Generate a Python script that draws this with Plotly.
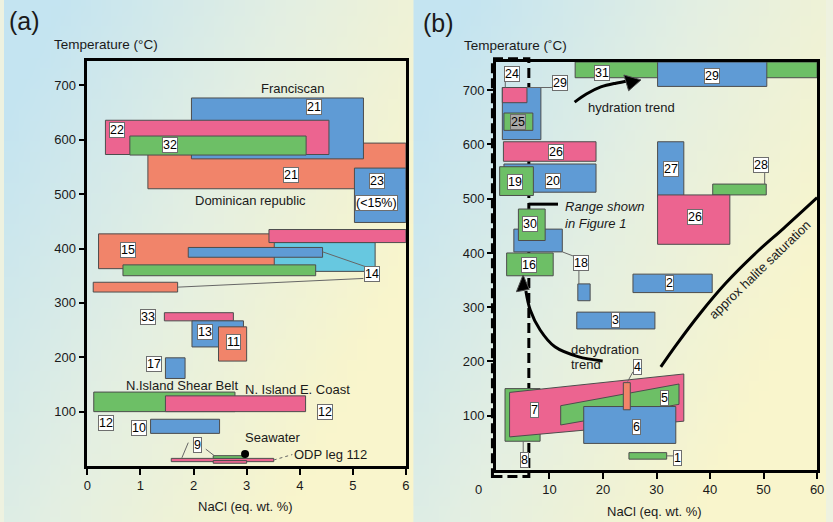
import base64
import struct
import zlib

import plotly.graph_objects as go

# ---------------------------------------------------------------- colours
BLUE = "#5f9bd5"
PINK = "#ec6490"
GREEN = "#6dbf66"
ORANGE = "#f1846a"
CYAN = "#67c8e0"
EDGE = "#4d4d4d"

# ---------------------------------------------------------------- panel (a) data
# fluid-inclusion fields: (colour, NaCl min, NaCl max, T min, T max), in drawing order
A_BOXES = [
    (ORANGE, 1.14, 6.00, 510, 594),   # 21 Dominican republic
    (BLUE, 1.96, 5.20, 565, 677),     # 21 Franciscan
    (PINK, 0.34, 4.55, 573, 636),     # 22
    (GREEN, 0.80, 4.12, 572, 607),    # 32
    (BLUE, 5.03, 6.00, 448, 548),     # 23
    (CYAN, 3.40, 5.42, 358, 411),     # 14
    (ORANGE, 0.21, 3.52, 363, 427),   # 15
    (PINK, 3.42, 6.00, 411, 435),     # 14
    (BLUE, 1.90, 4.43, 384, 402),     # 14
    (GREEN, 0.67, 4.30, 350, 370),    # 14
    (ORANGE, 0.11, 1.70, 320, 338),   # 14
    (PINK, 1.45, 2.75, 267, 282),     # 33
    (BLUE, 1.97, 2.94, 219, 267),     # 13
    (ORANGE, 2.47, 3.00, 193, 256),   # 11
    (BLUE, 1.47, 1.84, 161, 199),     # 17
    (GREEN, 0.12, 2.78, 100, 136),    # 12 N.Island Shear Belt
    (PINK, 1.47, 4.11, 100, 129),     # 12 N. Island E. Coast
    (BLUE, 1.19, 2.49, 60, 86),       # 10
    (PINK, 1.58, 3.51, 8, 14),        # 9
    (GREEN, 2.37, 2.98, 14, 19),      # 9
    (PINK, 2.37, 3.00, 5, 10),        # 9
]

# boxed reference numbers: (text, NaCl, T)
A_TAGS = [
    ("21", 4.27, 661), ("22", 0.55, 618), ("32", 1.56, 590), ("21", 3.83, 536),
    ("23", 5.45, 525), ("(<15%)", 5.45, 484), ("15", 0.77, 398), ("14", 5.37, 353),
    ("33", 1.14, 275), ("13", 2.21, 247), ("11", 2.75, 228), ("17", 1.25, 188),
    ("12", 0.35, 80), ("12", 4.48, 99), ("10", 0.98, 69), ("9", 2.07, 39),
]

# free text: (text, NaCl, T, anchor)
A_TEXT = [
    ("Franciscan", 3.88, 694, "center"),
    ("Dominican republic", 3.08, 489, "center"),
    ("N.Island Shear Belt", 1.78, 149, "center"),
    ("N. Island E. Coast", 3.96, 141, "center"),
    ("Seawater", 3.50, 53, "center"),
    ("ODP leg 112", 3.86, 21, "left"),
]

# leader lines: list of (NaCl list, T list)
A_LEADERS = [
    ([4.43, 5.23], [394, 367]),
    ([1.70, 5.20], [329, 345]),
    ([1.90, 1.78], [43, 15]),
    ([2.23, 2.39], [31, 19]),
]
A_ODP_LINE = ([3.51, 3.86], [11, 21])
SEAWATER = (2.97, 22)

A_XTICKS = [0, 1, 2, 3, 4, 5, 6]
A_YTICKS = [100, 200, 300, 400, 500, 600, 700]

# ---------------------------------------------------------------- panel (b) data
B_BOXES = [
    (GREEN, 14.8, 60.0, 723, 752),    # 31
    (BLUE, 30.2, 50.6, 707, 752),     # 29
    (BLUE, 1.2, 8.4, 609, 705),       # 25
    (PINK, 1.2, 5.8, 677, 705),       # 24
    (GREEN, 1.5, 6.9, 626, 658),      # 25
    (PINK, 1.4, 18.7, 569, 605),      # 26
    (BLUE, 1.5, 18.7, 512, 564),      # 20
    (GREEN, 0.7, 7.0, 506, 559),      # 19
    (BLUE, 3.35, 12.4, 402, 444),     # 18
    (GREEN, 4.2, 9.2, 423, 481),      # 30
    (GREEN, 2.0, 10.7, 358, 400),     # 16
    (BLUE, 15.3, 17.6, 312, 343),     # 18
    (BLUE, 25.6, 40.4, 327, 361),     # 2
    (BLUE, 15.1, 29.7, 260, 291),     # 3
    (BLUE, 30.2, 35.1, 503, 605),     # 27
    (GREEN, 40.5, 50.5, 507, 527),    # 28
    (PINK, 30.2, 43.7, 416, 507),     # 26
    (GREEN, 1.7, 8.25, 53, 150),      # 8
]
# sloping fields: (colour, NaCl corners, T corners)
B_POLYS = [
    (PINK, [2.55, 2.55, 35.1, 35.1], [61, 143, 177, 90]),        # 7
    (GREEN, [12.1, 12.1, 34.2, 34.2], [83, 118.5, 158.5, 121]),  # 5
]
B_BOXES_TOP = [
    (BLUE, 16.4, 33.6, 49, 117),      # 6
    (ORANGE, 23.8, 25.1, 111, 161),   # 4
    (GREEN, 24.85, 31.9, 20, 32),     # 1
]

B_TAGS = [
    ("24", 3.0, 729), ("29", 11.96, 713), ("31", 19.8, 731), ("29", 40.4, 726),
    ("26", 11.3, 587), ("19", 3.5, 530), ("20", 10.7, 532),
    ("30", 6.4, 454), ("16", 6.2, 378), ("18", 15.85, 381), ("2", 32.4, 345),
    ("3", 22.4, 276), ("27", 32.7, 555), ("28", 49.5, 562), ("26", 37.1, 467),
    ("4", 26.4, 190), ("5", 31.5, 133), ("6", 26.3, 80), ("7", 7.2, 110),
    ("8", 5.25, 19), ("1", 34.0, 23),
]
B_TAG_GREY = [("25", 4.1, 642)]

B_LEADERS = [
    ([5.8, 10.5], [705, 705]),
    ([1.75, 1.75], [719, 705]),
    ([12.4, 15.1], [402, 392]),
    ([15.5, 15.5], [372, 343]),
    ([50.2, 50.2], [553, 527]),
    ([5.1, 5.1], [53, 28]),
    ([31.9, 33.3], [26, 26]),
    ([25.6, 24.6], [181, 163]),
]
RANGE_LEADER = ([6.1, 11.6], [490, 490])

HYDRATION_X = [14.7, 16.9, 19.6, 22.4, 24.8]
HYDRATION_T = [678, 693, 706, 713, 717]
HYDRATION_HEAD_X = [23.9, 27.1, 24.8]
HYDRATION_HEAD_T = [728, 719, 699]

DEHYDRATION_X = [19.94, 15.34, 11.02, 8.26, 6.41, 5.6]
DEHYDRATION_T = [201, 209, 227, 258, 295, 330]
DEHYDRATION_HEAD_X = [3.83, 5.07, 6.23]
DEHYDRATION_HEAD_T = [328.6, 359.4, 333.0]

HALITE_X = [30.8, 33.8, 38.1, 43.0, 49.1, 53.8, 60.0]
HALITE_T = [190, 232, 288, 345, 405, 446, 502]

FIG1_RANGE_X = (-0.65, 6.15)
FIG1_RANGE_T = (-12, 758)

B_XTICKS = [10, 20, 30, 40, 50, 60]
B_YTICKS = [100, 200, 300, 400, 500, 600, 700]

# ---------------------------------------------------------------- layout constants
W, H = 833, 522
A_X_PX, A_Y_PX, A_XR, A_YR = (84.5, 407.3), (61, 466), (0, 6), (0, 745)
B_X_PX, B_Y_PX, B_XR, B_YR = (498.5, 824.0), (62, 470), (0, 60), (0, 752)
FONT = "Liberation Sans, Arial, Helvetica, sans-serif"
TEXT_SIZE = 13


def dom_x(px):
    return [px[0] / W, px[1] / W]


def dom_y(py):
    return [1 - py[1] / H, 1 - py[0] / H]


def to_paper(x, y, xpx, ypx, xr, yr):
    px = xpx[0] + (x - xr[0]) / (xr[1] - xr[0]) * (xpx[1] - xpx[0])
    py = ypx[1] - (y - yr[0]) / (yr[1] - yr[0]) * (ypx[1] - ypx[0])
    return px / W, 1 - py / H


def gradient_png(w, h):
    stops = [(0.0, (196, 228, 241)), (0.5, (228, 239, 226)), (1.0, (249, 245, 204))]

    def col(t):
        t = max(0.0, min(1.0, t))
        for (t0, c0), (t1, c1) in zip(stops, stops[1:]):
            if t <= t1:
                f = (t - t0) / (t1 - t0)
                return tuple(int(round(a + (b - a) * f)) for a, b in zip(c0, c1))
        return stops[-1][1]

    raw = bytearray()
    for j in range(h):
        raw.append(0)
        v = j / (h - 1)
        for i in range(w):
            u = i / (w - 1)
            raw += bytes(col(0.85 * u + 0.5 * v - 0.1))

    def chunk(tag, data):
        body = tag + data
        return struct.pack(">I", len(data)) + body + struct.pack(">I", zlib.crc32(body) & 0xFFFFFFFF)

    png = (b"\x89PNG\r\n\x1a\n"
           + chunk(b"IHDR", struct.pack(">IIBBBBB", w, h, 8, 2, 0, 0, 0))
           + chunk(b"IDAT", zlib.compress(bytes(raw), 9))
           + chunk(b"IEND", b""))
    return "data:image/png;base64," + base64.b64encode(png).decode()


fig = go.Figure()


def add_box(color, x0, x1, y0, y1, xa, ya):
    fig.add_trace(go.Scatter(
        x=[x0, x1, x1, x0, x0], y=[y0, y0, y1, y1, y0], mode="lines",
        fill="toself", fillcolor=color, line=dict(color=EDGE, width=1),
        hoverinfo="skip", showlegend=False, xaxis=xa, yaxis=ya))


def add_poly(color, xs, ys, xa, ya):
    fig.add_trace(go.Scatter(
        x=xs + xs[:1], y=ys + ys[:1], mode="lines", fill="toself", fillcolor=color,
        line=dict(color=EDGE, width=1), hoverinfo="skip", showlegend=False,
        xaxis=xa, yaxis=ya))


def add_line(xs, ys, xa, ya, color="#666666", width=1, dash=None, shape="linear"):
    fig.add_trace(go.Scatter(
        x=xs, y=ys, mode="lines", line=dict(color=color, width=width, dash=dash, shape=shape),
        hoverinfo="skip", showlegend=False, xaxis=xa, yaxis=ya))


# ---------------- panel (a)
for c, x0, x1, y0, y1 in A_BOXES:
    add_box(c, x0, x1, y0, y1, "x", "y")
for xs, ys in A_LEADERS:
    add_line(xs, ys, "x", "y")
add_line(A_ODP_LINE[0], A_ODP_LINE[1], "x", "y", dash="dot")
fig.add_trace(go.Scatter(x=[SEAWATER[0]], y=[SEAWATER[1]], mode="markers",
                         marker=dict(color="black", size=8), hoverinfo="skip",
                         showlegend=False, xaxis="x", yaxis="y"))

# ---------------- panel (b)
for c, x0, x1, y0, y1 in B_BOXES:
    add_box(c, x0, x1, y0, y1, "x2", "y2")
for c, xs, ys in B_POLYS:
    add_poly(c, xs, ys, "x2", "y2")
for c, x0, x1, y0, y1 in B_BOXES_TOP:
    add_box(c, x0, x1, y0, y1, "x2", "y2")
for xs, ys in B_LEADERS:
    add_line(xs, ys, "x2", "y2")
add_line(RANGE_LEADER[0], RANGE_LEADER[1], "x2", "y2", color="black", width=3)
add_line(HYDRATION_X, HYDRATION_T, "x2", "y2", color="black", width=3, shape="spline")
add_poly("black", HYDRATION_HEAD_X, HYDRATION_HEAD_T, "x2", "y2")
add_line(DEHYDRATION_X, DEHYDRATION_T, "x2", "y2", color="black", width=3, shape="spline")
add_poly("black", DEHYDRATION_HEAD_X, DEHYDRATION_HEAD_T, "x2", "y2")
add_line(HALITE_X, HALITE_T, "x2", "y2", color="black", width=3, shape="spline")

# ---------------- annotations
ann = []


def tag(text, x, y, xref, yref, bg="white"):
    ann.append(dict(text=text, x=x, y=y, xref=xref, yref=yref, showarrow=False,
                    font=dict(size=12.5, color="black", family=FONT), bgcolor=bg,
                    bordercolor="#6e6e6e", borderwidth=1, borderpad=0))


def label(text, x, y, xref, yref, anchor="center", size=TEXT_SIZE, angle=0):
    ann.append(dict(text=text, x=x, y=y, xref=xref, yref=yref, showarrow=False,
                    xanchor=anchor, textangle=angle,
                    font=dict(size=size, color="#1a1a1a", family=FONT)))


for t, x, y in A_TAGS:
    tag(t, x, y, "x", "y")
for t, x, y, a in A_TEXT:
    label(t, x, y, "x", "y", anchor=a)
for t, x, y in B_TAGS:
    tag(t, x, y, "x2", "y2")
for t, x, y in B_TAG_GREY:
    tag(t, x, y, "x2", "y2", bg="#a9a9a9")

label("hydration trend", 25.4, 668, "x2", "y2")
label("<i>Range shown</i>", 12.6, 485, "x2", "y2", anchor="left")
label("<i>in Figure 1</i>", 12.6, 455, "x2", "y2", anchor="left")
label("dehydration", 13.6, 222, "x2", "y2", anchor="left")
label("trend", 13.6, 194, "x2", "y2", anchor="left")
label("approx halite saturation", 49.3, 370, "x2", "y2", angle=-44)


# panel letters and axis titles (paper coordinates)
def paper_text(text, px, py, anchor="left", size=TEXT_SIZE):
    ann.append(dict(text=text, x=px / W, y=1 - py / H, xref="paper", yref="paper",
                    showarrow=False, xanchor=anchor, yanchor="middle",
                    font=dict(size=size, color="#1a1a1a", family=FONT)))


paper_text("(a)", 3, 21, size=25)
paper_text("(b)", 423, 23, size=25)
paper_text("Temperature (°C)", 49, 44, size=13.5)
paper_text("Temperature (˚C)", 464, 45, size=13.5)
paper_text("NaCl (eq. wt. %)", 245, 506, anchor="center")
paper_text("NaCl (eq. wt. %)", 659, 511, anchor="center")
paper_text("0", 481, 489, anchor="center")

# dashed outline of the Figure 1 range
bx0, by0 = to_paper(FIG1_RANGE_X[0], FIG1_RANGE_T[0], B_X_PX, B_Y_PX, B_XR, B_YR)
bx1, by1 = to_paper(FIG1_RANGE_X[1], FIG1_RANGE_T[1], B_X_PX, B_Y_PX, B_XR, B_YR)
shapes = [dict(type="rect", xref="paper", yref="paper", x0=bx0, x1=bx1, y0=by0, y1=by1,
               line=dict(color="black", width=3, dash="10px,5px"), layer="below")]

bg = gradient_png(40, 50)
images = [
    dict(source=bg, xref="paper", yref="paper", x=0, y=1, sizex=415 / W, sizey=1,
         xanchor="left", yanchor="top", sizing="stretch", layer="below"),
    dict(source=bg, xref="paper", yref="paper", x=415 / W, y=1, sizex=(W - 415) / W,
         sizey=1, xanchor="left", yanchor="top", sizing="stretch", layer="below"),
]

axis_common = dict(showgrid=False, zeroline=False, showline=True, linecolor="black",
                   linewidth=2.5, mirror=True, ticks="outside", ticklen=6, tickwidth=2,
                   tickcolor="black", tickfont=dict(size=13, color="#1a1a1a", family=FONT),
                   fixedrange=True)

fig.update_layout(
    width=W, height=H, margin=dict(l=0, r=0, t=0, b=0),
    paper_bgcolor="#eef2e0", plot_bgcolor="rgba(0,0,0,0)",
    xaxis=dict(domain=dom_x(A_X_PX), range=list(A_XR), tickvals=A_XTICKS, **axis_common),
    yaxis=dict(domain=dom_y(A_Y_PX), range=list(A_YR), tickvals=A_YTICKS, **axis_common),
    xaxis2=dict(domain=dom_x(B_X_PX), range=list(B_XR), tickvals=B_XTICKS, anchor="y2",
                **axis_common),
    yaxis2=dict(domain=dom_y(B_Y_PX), range=list(B_YR), tickvals=B_YTICKS, anchor="x2",
                **axis_common),
    annotations=ann, shapes=shapes, images=images, showlegend=False,
)

fig.write_html("out.html")
